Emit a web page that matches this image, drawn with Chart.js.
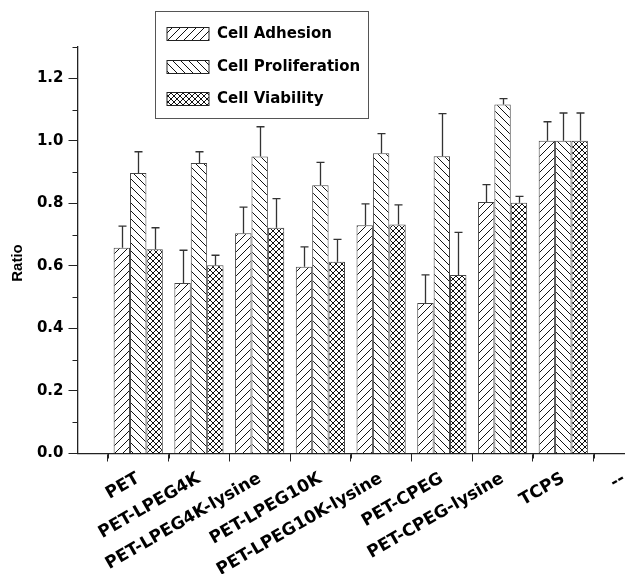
<!DOCTYPE html>
<html>
<head>
<meta charset="utf-8">
<script src="https://cdn.jsdelivr.net/npm/chart.js@4.4.0/dist/chart.umd.min.js"></script>
<style>
html,body{margin:0;padding:0;background:#fff;}
#wrap{width:625px;height:574px;position:relative;}
</style>
</head>
<body>
<div id="wrap"><canvas id="c" width="625" height="574"></canvas></div>
<script>
const categories = ['', 'PET', 'PET-LPEG4K', 'PET-LPEG4K-lysine', 'PET-LPEG10K', 'PET-LPEG10K-lysine', 'PET-CPEG', 'PET-CPEG-lysine', 'TCPS', '--'];
const seriesNames = ['Cell Adhesion', 'Cell Proliferation', 'Cell Viability'];
const adhesion = [null, 0.658, 0.545, 0.704, 0.597, 0.730, 0.481, 0.804, 1.00, null];
const adhesionErr = [null, 0.069, 0.105, 0.084, 0.064, 0.068, 0.090, 0.056, 0.061, null];
const proliferation = [null, 0.897, 0.929, 0.950, 0.858, 0.960, 0.951, 1.116, 1.00, null];
const proliferationErr = [null, 0.068, 0.036, 0.095, 0.073, 0.063, 0.136, 0.019, 0.089, null];
const viability = [null, 0.653, 0.602, 0.722, 0.613, 0.732, 0.571, 0.802, 1.00, null];
const viabilityErr = [null, 0.069, 0.032, 0.093, 0.072, 0.063, 0.136, 0.020, 0.089, null];
const yTickValues = [0, 0.2, 0.4, 0.6, 0.8, 1.0, 1.2];

function makePattern(kind) {
  const s = kind === 'cross' ? 6 : 8;
  const c = document.createElement('canvas');
  c.width = s; c.height = s;
  const g = c.getContext('2d');
  g.fillStyle = '#fff'; g.fillRect(0, 0, s, s);
  g.fillStyle = '#111';
  for (let x = 0; x < s; x++) {
    if (kind === 'fwd' || kind === 'cross') g.fillRect(x, s - 1 - x, 1, 1);
    if (kind === 'back' || kind === 'cross') g.fillRect(x, x, 1, 1);
  }
  return g.createPattern(c, 'repeat');
}
const pats = [makePattern('fwd'), makePattern('back'), makePattern('cross')];
const errs = [adhesionErr, proliferationErr, viabilityErr];

const extras = {
  id: 'extras',
  afterDatasetsDraw(chart) {
    const ctx = chart.ctx;
    const y = chart.scales.y;
    ctx.save();
    ctx.strokeStyle = '#333';
    ctx.lineWidth = 1.3;
    chart.data.datasets.forEach((ds, di) => {
      const meta = chart.getDatasetMeta(di);
      meta.data.forEach((bar, i) => {
        const v = ds.data[i];
        if (v === null || v === undefined) return;
        const e = errs[di][i];
        const yt = y.getPixelForValue(v + e);
        const x = Math.round(bar.x) + 0.5;
        ctx.beginPath();
        ctx.moveTo(x, bar.y);
        ctx.lineTo(x, yt);
        ctx.moveTo(x - 4, yt);
        ctx.lineTo(x + 4, yt);
        ctx.stroke();
      });
    });
    ctx.restore();
  },
  afterDraw(chart) {
    const ctx = chart.ctx;
    const xs = chart.scales.x, ys = chart.scales.y;
    const area = chart.chartArea;
    ctx.save();
    ctx.strokeStyle = '#222';
    ctx.lineWidth = 1;
    for (let k = 1; k <= 13; k += 2) {
      const py = Math.round(ys.getPixelForValue(k / 10)) + 0.5;
      ctx.beginPath(); ctx.moveTo(area.left - 5, py); ctx.lineTo(area.left, py); ctx.stroke();
    }
    for (let i = 0; i < categories.length - 1; i++) {
      const px = Math.round((xs.getPixelForTick(i) + xs.getPixelForTick(i + 1)) / 2) + 0.5;
      ctx.beginPath(); ctx.moveTo(px, area.bottom); ctx.lineTo(px, area.bottom + 5); ctx.stroke();
    }
    ctx.fillStyle = '#000';
    ctx.font = 'bold 15px "Liberation Sans", Arial, sans-serif';
    ctx.translate(18, 263);
    ctx.rotate(-Math.PI / 2);
    ctx.textAlign = 'center';
    ctx.textBaseline = 'middle';
    ctx.fillText('Ratio', 0, 0);
    ctx.setTransform(1, 0, 0, 1, 0, 0);
    ctx.strokeStyle = '#555';
    ctx.strokeRect(155.5, 11.5, 213, 107);
    const rowsY = [27.5, 60.5, 92.5];
    ctx.font = 'bold 15px "DejaVu Sans", sans-serif';
    ctx.textAlign = 'left';
    ctx.textBaseline = 'middle';
    chart.data.datasets.forEach((ds, di) => {
      ctx.fillStyle = ds.backgroundColor;
      ctx.fillRect(167, rowsY[di], 42, 13);
      ctx.strokeStyle = '#222';
      ctx.strokeRect(167, rowsY[di], 42, 13);
      ctx.fillStyle = '#000';
      ctx.fillText(ds.label, 217, rowsY[di] + 7);
    });
    ctx.restore();
  }
};

new Chart(document.getElementById('c'), {
  type: 'bar',
  data: {
    labels: categories,
    datasets: [
      { label: seriesNames[0], data: adhesion, backgroundColor: pats[0], borderColor: '#444', borderWidth: 1 },
      { label: seriesNames[1], data: proliferation, backgroundColor: pats[1], borderColor: '#444', borderWidth: 1 },
      { label: seriesNames[2], data: viability, backgroundColor: pats[2], borderColor: '#444', borderWidth: 1 }
    ]
  },
  options: {
    responsive: false,
    animation: false,
    datasets: { bar: { barPercentage: 1.0, categoryPercentage: 0.81, grouped: true } },
    layout: { padding: { top: 47, right: 1, left: 0, bottom: 0 } },
    plugins: { legend: { display: false }, tooltip: { enabled: false } },
    scales: {
      x: {
        type: 'category',
        offset: false,
        grid: { display: true, drawOnChartArea: false, drawTicks: true, tickLength: 8, tickColor: '#222', lineWidth: 1 },
        border: { display: true, color: '#222', width: 1.3 },
        ticks: {
          autoSkip: false, maxRotation: 30, minRotation: 30, padding: 7,
          color: '#000', font: { family: '"DejaVu Sans", sans-serif', weight: 'bold', size: 17 }
        },
        afterFit(s) { s.height = 120.5; s.paddingRight = 0; s.paddingLeft = 0; }
      },
      y: {
        min: 0, max: 1.3, bounds: 'data',
        grid: { display: true, drawOnChartArea: false, drawTicks: true, tickLength: 9, tickColor: '#222', lineWidth: 1 },
        border: { display: true, color: '#222', width: 1.3 },
        afterBuildTicks(s) { s.ticks = yTickValues.map(v => ({ value: v })); },
        ticks: {
          padding: 5, color: '#000',
          font: { family: '"DejaVu Sans", sans-serif', weight: 'bold', size: 15 },
          callback: v => Number(v).toFixed(1)
        },
        afterFit(s) { s.width = 77.5; s.paddingTop = 0; s.paddingBottom = 0; }
      }
    }
  },
  plugins: [extras]
});
</script>
</body>
</html>
